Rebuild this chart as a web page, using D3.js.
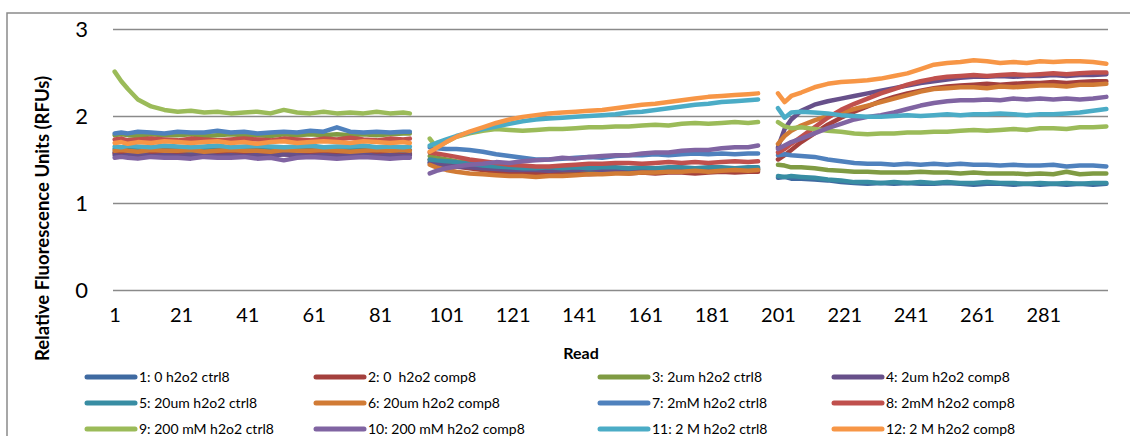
<!DOCTYPE html>
<meta charset='utf-8'>
<style>
body { margin: 0; background: #fff; }
svg text { font-family: Lato, 'Liberation Sans', sans-serif; fill: #000; }
.frame { fill: none; stroke: #8a8a8a; stroke-width: 1.5px; }
.grid line { stroke: #8a8a8a; stroke-width: 1.5px; }
.grid .domain, .axis .domain, .axis line { display: none; }
.y.axis text { font-size: 22px; }
.x.axis text { font-size: 20px; }
.title { font-weight: bold; font-size: 16px; }
.title.ytitle { font-size: 18.5px; }
.series { fill: none; stroke-width: 4.5px; stroke-linecap: round; stroke-linejoin: round; }
.legend text { font-size: 14px; white-space: pre; }
.legend line { stroke-width: 5px; stroke-linecap: round; }
</style>
<body>
<script src='https://d3js.org/d3.v7.min.js'></script>
<script>
'use strict'

let reads = [
	1,3,5,8,12,16,20,24,28,32,36,40,44,48,52,56,60,64,68,72,76,80,84,88,90,
	96,98,101,104,108,112,116,120,124,128,132,136,140,144,148,152,156,160,164,168,172,176,180,184,188,192,195,
	201,203,205,208,212,216,220,224,228,232,236,240,244,248,252,256,260,264,268,272,276,280,284,288,292,296,300]

let v01 = [
	1.58,1.59,1.57,1.58,1.59,1.58,1.57,1.59,1.58,1.58,1.57,1.59,1.58,1.57,1.58,1.59,1.58,1.57,1.58,1.59,1.58,1.57,1.58,1.58,1.57,
	1.47,1.46,1.45,1.43,1.42,1.40,1.39,1.38,1.37,1.37,1.36,1.37,1.36,1.37,1.37,1.36,1.37,1.38,1.37,1.37,1.38,1.37,1.38,1.37,1.38,1.37,1.38,
	1.29,1.30,1.28,1.28,1.27,1.26,1.24,1.23,1.22,1.23,1.22,1.23,1.22,1.22,1.23,1.22,1.21,1.22,1.22,1.21,1.22,1.21,1.22,1.21,1.22,1.21,1.22]
let v02 = [
	1.57,1.56,1.57,1.55,1.56,1.57,1.56,1.55,1.57,1.56,1.57,1.56,1.55,1.57,1.56,1.55,1.56,1.57,1.56,1.55,1.56,1.57,1.56,1.55,1.56,
	1.50,1.48,1.45,1.42,1.40,1.38,1.36,1.35,1.34,1.34,1.33,1.34,1.34,1.33,1.34,1.35,1.34,1.35,1.34,1.35,1.35,1.34,1.35,1.36,1.35,1.36,1.36,
	1.50,1.55,1.61,1.70,1.80,1.90,1.98,2.05,2.11,2.17,2.22,2.26,2.29,2.32,2.34,2.35,2.36,2.37,2.36,2.37,2.38,2.38,2.39,2.38,2.39,2.40,2.40]
let v03 = [
	1.78,1.79,1.78,1.77,1.79,1.78,1.78,1.79,1.77,1.78,1.79,1.78,1.78,1.77,1.79,1.78,1.79,1.78,1.79,1.78,1.79,1.78,1.79,1.80,1.80,
	1.54,1.52,1.50,1.48,1.46,1.44,1.42,1.41,1.40,1.39,1.39,1.38,1.38,1.39,1.38,1.38,1.39,1.38,1.38,1.39,1.38,1.39,1.38,1.39,1.39,1.38,1.39,
	1.44,1.43,1.41,1.41,1.40,1.38,1.37,1.36,1.36,1.35,1.35,1.35,1.36,1.35,1.35,1.34,1.35,1.34,1.34,1.34,1.33,1.34,1.33,1.36,1.33,1.34,1.34]
let v04 = [
	1.55,1.54,1.55,1.56,1.54,1.55,1.54,1.55,1.56,1.54,1.55,1.54,1.55,1.54,1.56,1.55,1.54,1.55,1.54,1.55,1.56,1.54,1.55,1.54,1.55,
	1.46,1.45,1.43,1.42,1.41,1.40,1.39,1.38,1.38,1.38,1.37,1.38,1.38,1.39,1.38,1.38,1.39,1.38,1.39,1.39,1.38,1.39,1.39,1.40,1.39,1.40,1.40,
	1.64,1.85,1.96,2.06,2.13,2.17,2.20,2.23,2.26,2.29,2.32,2.35,2.38,2.40,2.42,2.44,2.45,2.45,2.46,2.45,2.46,2.46,2.47,2.46,2.47,2.47,2.48]
let v05 = [
	1.62,1.63,1.62,1.61,1.62,1.63,1.62,1.61,1.62,1.63,1.62,1.62,1.61,1.62,1.63,1.62,1.61,1.62,1.62,1.63,1.62,1.61,1.62,1.62,1.61,
	1.50,1.49,1.48,1.47,1.45,1.43,1.42,1.41,1.40,1.40,1.41,1.40,1.41,1.40,1.41,1.41,1.40,1.41,1.40,1.41,1.41,1.40,1.41,1.41,1.40,1.41,1.41,
	1.31,1.30,1.31,1.30,1.29,1.27,1.26,1.24,1.24,1.23,1.24,1.23,1.24,1.23,1.24,1.23,1.23,1.24,1.23,1.23,1.22,1.23,1.22,1.23,1.22,1.23,1.23]
let v06 = [
	1.60,1.61,1.60,1.59,1.61,1.60,1.60,1.61,1.59,1.60,1.61,1.60,1.60,1.59,1.61,1.60,1.60,1.61,1.60,1.59,1.60,1.61,1.60,1.61,1.60,
	1.44,1.41,1.38,1.36,1.34,1.33,1.32,1.31,1.31,1.30,1.31,1.31,1.32,1.33,1.33,1.34,1.34,1.35,1.35,1.36,1.36,1.37,1.36,1.37,1.38,1.37,1.38,
	1.68,1.77,1.83,1.89,1.95,2.00,2.04,2.08,2.12,2.16,2.20,2.24,2.28,2.31,2.32,2.33,2.33,2.32,2.34,2.33,2.34,2.35,2.35,2.34,2.36,2.36,2.37]
let v07 = [
	1.80,1.81,1.80,1.82,1.81,1.80,1.82,1.81,1.81,1.83,1.81,1.82,1.80,1.81,1.82,1.81,1.83,1.82,1.87,1.82,1.81,1.82,1.81,1.82,1.82,
	1.64,1.63,1.62,1.62,1.61,1.59,1.56,1.54,1.52,1.50,1.50,1.51,1.52,1.53,1.52,1.54,1.55,1.55,1.56,1.55,1.56,1.57,1.56,1.57,1.56,1.57,1.57,
	1.55,1.56,1.55,1.54,1.53,1.50,1.48,1.46,1.45,1.45,1.44,1.45,1.44,1.45,1.44,1.45,1.44,1.44,1.43,1.44,1.43,1.43,1.44,1.42,1.43,1.43,1.42]
let v08 = [
	1.73,1.74,1.72,1.73,1.74,1.73,1.72,1.74,1.73,1.72,1.73,1.74,1.73,1.72,1.74,1.73,1.72,1.74,1.73,1.75,1.73,1.72,1.74,1.73,1.74,
	1.58,1.57,1.55,1.53,1.50,1.48,1.46,1.44,1.43,1.42,1.42,1.43,1.44,1.45,1.45,1.46,1.46,1.45,1.46,1.47,1.46,1.47,1.46,1.47,1.48,1.47,1.48,
	1.58,1.62,1.68,1.76,1.87,1.98,2.07,2.14,2.20,2.26,2.31,2.36,2.40,2.43,2.45,2.46,2.47,2.46,2.47,2.48,2.47,2.48,2.49,2.48,2.49,2.50,2.50]
let v09 = [
	2.51,2.40,2.31,2.19,2.11,2.07,2.05,2.06,2.04,2.05,2.03,2.04,2.05,2.03,2.07,2.04,2.03,2.05,2.03,2.04,2.03,2.05,2.03,2.04,2.03,
	1.74,1.64,1.70,1.76,1.80,1.83,1.85,1.84,1.83,1.84,1.85,1.85,1.86,1.87,1.87,1.88,1.88,1.89,1.90,1.89,1.91,1.92,1.91,1.92,1.93,1.92,1.93,
	1.93,1.88,1.86,1.87,1.85,1.83,1.82,1.80,1.79,1.80,1.80,1.81,1.81,1.82,1.82,1.83,1.84,1.83,1.84,1.85,1.84,1.86,1.86,1.85,1.87,1.87,1.88]
let v10 = [
	1.52,1.53,1.52,1.51,1.53,1.52,1.52,1.51,1.53,1.52,1.52,1.53,1.51,1.52,1.49,1.52,1.53,1.52,1.51,1.52,1.53,1.52,1.51,1.52,1.52,
	1.34,1.37,1.40,1.42,1.44,1.45,1.47,1.46,1.48,1.49,1.50,1.52,1.51,1.53,1.54,1.55,1.55,1.57,1.58,1.58,1.60,1.61,1.61,1.63,1.64,1.64,1.66,
	1.62,1.66,1.70,1.74,1.80,1.86,1.91,1.96,1.99,2.01,2.04,2.08,2.12,2.15,2.17,2.18,2.18,2.19,2.18,2.20,2.19,2.20,2.19,2.20,2.19,2.20,2.22]
let v11 = [
	1.65,1.64,1.66,1.65,1.64,1.66,1.65,1.64,1.65,1.66,1.64,1.65,1.66,1.65,1.64,1.65,1.66,1.64,1.65,1.65,1.66,1.64,1.65,1.64,1.65,
	1.66,1.69,1.73,1.77,1.81,1.85,1.88,1.91,1.94,1.96,1.97,1.98,1.99,2.00,2.01,2.02,2.04,2.05,2.07,2.09,2.11,2.13,2.14,2.16,2.17,2.18,2.19,
	2.09,1.98,2.04,2.05,2.04,2.03,2.01,2.00,1.99,1.99,2.00,2.01,2.00,2.01,2.02,2.01,2.02,2.02,2.03,2.02,2.01,2.02,2.02,2.03,2.04,2.06,2.08]
let v12 = [
	1.69,1.70,1.68,1.70,1.69,1.71,1.70,1.69,1.70,1.71,1.69,1.70,1.68,1.70,1.71,1.69,1.70,1.71,1.70,1.69,1.71,1.70,1.69,1.70,1.69,
	1.59,1.63,1.70,1.76,1.82,1.87,1.92,1.96,1.99,2.01,2.03,2.04,2.05,2.06,2.07,2.09,2.11,2.13,2.14,2.16,2.18,2.20,2.22,2.23,2.24,2.25,2.26,
	2.26,2.16,2.23,2.27,2.33,2.37,2.39,2.40,2.41,2.43,2.46,2.49,2.54,2.59,2.61,2.62,2.64,2.63,2.61,2.62,2.61,2.63,2.62,2.63,2.63,2.62,2.60]

let names = [
	'1: 0 h2o2 ctrl8', '2: 0  h2o2 comp8', '3: 2um h2o2 ctrl8', '4: 2um h2o2 comp8',
	'5: 20um h2o2 ctrl8', '6: 20um h2o2 comp8', '7: 2mM h2o2 ctrl8', '8: 2mM h2o2 comp8',
	'9: 200 mM h2o2 ctrl8', '10: 200 mM h2o2 comp8', '11: 2 M h2o2 ctrl8', '12: 2 M h2o2 comp8']
let values = [v01, v02, v03, v04, v05, v06, v07, v08, v09, v10, v11, v12]
let xTicks = [1, 21, 41, 61, 81, 101, 121, 141, 161, 181, 201, 221, 241, 261, 281]
let yTicks = [0, 1, 2, 3]
let nReads = 300

let colors = ['#3f6aa1', '#a4403d', '#7f9b43', '#67508a', '#388da3', '#d17b35',
	'#4f81bd', '#c0504d', '#9bbb59', '#8064a2', '#4bacc6', '#f79646']


// Layout

let W = 1130, H = 436,
	plot = {left: 113, right: 1108, top: 29, bottom: 290},
	x = d3.scaleLinear().domain([0.5, nReads + 0.5]).range([plot.left, plot.right]),
	y = d3.scaleLinear().domain([0, 3]).range([plot.bottom, plot.top])

let svg = d3.select('body').append('svg').attr('width', W).attr('height', H)

svg.append('rect').attr('class', 'frame')
	.attr('x', 7).attr('y', 13).attr('width', W + 20).attr('height', H + 20)

svg.append('g').attr('class', 'grid')
	.attr('transform', `translate(${plot.left},0)`)
	.call(d3.axisLeft(y).tickValues(yTicks).tickSize(-(plot.right - plot.left)).tickFormat(''))

svg.append('g').attr('class', 'y axis')
	.attr('transform', `translate(${plot.left},0)`)
	.call(d3.axisLeft(y).tickValues(yTicks).tickFormat(d3.format('d')).tickSize(0).tickPadding(25))
	.call(s => s.selectAll('text').attr('dy', '0.36em'))

svg.append('g').attr('class', 'x axis')
	.attr('transform', `translate(0,${plot.bottom})`)
	.call(d3.axisBottom(x).tickValues(xTicks).tickSize(0).tickPadding(22))
	.call(s => s.selectAll('text').attr('dy', '0.5em'))

svg.append('text').attr('class', 'title ytitle')
	.attr('transform', `translate(49,${(65 + 372) / 2}) rotate(-90)`)
	.attr('text-anchor', 'middle').text('Relative Fluorescence Units (RFUs)')

svg.append('text').attr('class', 'title')
	.attr('x', 581).attr('y', 359).attr('text-anchor', 'middle').text('Read')


// Series: split at the read gaps, later series drawn on top

let runs = vals => {
	let out = [], cur = []
	reads.forEach((r, i) => {
		if (cur.length && r - reads[i - 1] > 5) { out.push(cur); cur = [] }
		cur.push([r, vals[i]]) })
	out.push(cur)
	return out }

let line = d3.line().x(d => x(d[0])).y(d => y(d[1]))

values.forEach((vals, k) => {
	svg.append('g').selectAll('path').data(runs(vals)).join('path')
		.attr('class', 'series').attr('stroke', colors[k]).attr('d', line) })


// Legend, 4 columns x 3 rows

let legX = [87, 316, 600, 834], legY = [377, 403, 429]
let leg = svg.append('g').attr('class', 'legend')
	.selectAll('g').data(names).join('g')
		.attr('transform', (d, i) => `translate(${legX[i % 4]},${legY[Math.floor(i / 4)]})`)
leg.append('line').attr('x1', 0).attr('x2', 48).attr('stroke', (d, i) => colors[i])
leg.append('text').attr('x', 52).attr('dy', '0.35em').text(d => d)

</script>
</body>
